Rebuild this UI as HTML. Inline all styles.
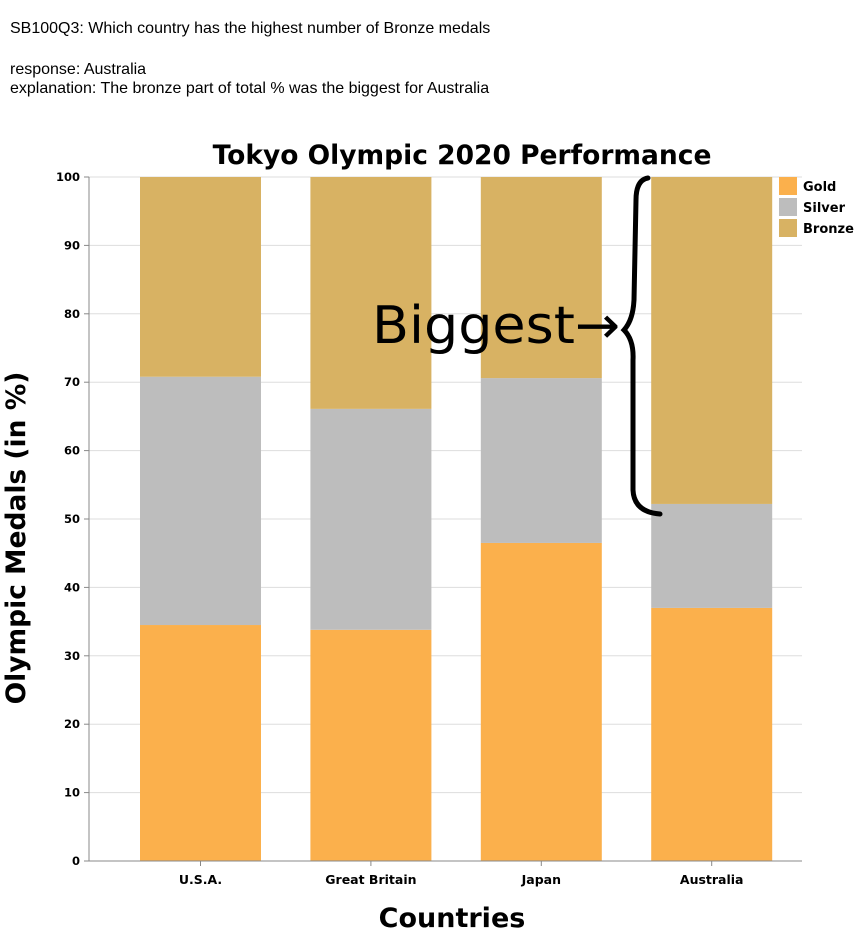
<!DOCTYPE html>
<html><head><meta charset="utf-8"><style>
body{margin:0;background:#fff;width:860px;height:935px;overflow:hidden;font-family:"Liberation Sans",sans-serif}
.hdr{position:absolute;left:10px;font-size:16px;color:#000}
</style></head><body>
<div class="hdr" style="top:20px">SB100Q3: Which country has the highest number of Bronze medals</div>
<div class="hdr" style="top:61px">response: Australia</div>
<div class="hdr" style="top:80px">explanation: The bronze part of total % was the biggest for Australia</div>
<svg id="chart" width="860" height="935" style="position:absolute;left:0;top:0" font-family="DejaVu Sans, sans-serif"></svg>
<script>
const categories=["U.S.A.","Great Britain","Japan","Australia"];
const gold=[34.5,33.8,46.5,37.0];
const silver=[36.3,32.3,24.1,15.2];
const bronze=[29.2,33.9,29.4,47.8];
const yTicks=[0,10,20,30,40,50,60,70,80,90,100];
const seriesNames=["Gold","Silver","Bronze"];
const colors=["#fbb04c","#bdbdbd","#d8b263"];
const svg=document.getElementById('chart');
const NS="http://www.w3.org/2000/svg";
const L=89,R=802,T=177,B=861;
const y=v=>B-(v/100)*(B-T);
const step=170.4, bw=121;
const xc=i=>200.5+step*i;
function mk(tag,at,txt){const e=document.createElementNS(NS,tag);for(const k in at)e.setAttribute(k,at[k]);if(txt!==undefined)e.textContent=txt;svg.appendChild(e);return e;}
yTicks.forEach(t=>{
 const g=mk('line',{x1:L,x2:R,y1:y(t),y2:y(t),stroke:'#ddd','stroke-width':1});
 
 
 const tk=mk('line',{x1:L-5,x2:L,y1:y(t),y2:y(t),stroke:'#888'});
 
 
 const lb=mk('text',{x:L-9,y:y(t)+4,'text-anchor':'end','font-size':11.5,'font-weight':'bold',fill:'#000'},t);
 
 
});
const series=[gold,silver,bronze];
categories.forEach((c,i)=>{
 let base=0;
 series.forEach((s,j)=>{
  const r=mk('rect',{x:xc(i)-bw/2,y:y(base+s[i]),width:bw,height:y(base)-y(base+s[i]),fill:colors[j]});
  
  
  base+=s[i];
 });
 const tk=mk('line',{x1:xc(i),x2:xc(i),y1:B,y2:B+5,stroke:'#888'});
 
 
 const lb=mk('text',{x:xc(i),y:B+23,'text-anchor':'middle','font-size':12.5,'font-weight':'bold'},c);
 
 
});
const ax=mk('line',{x1:L,x2:L,y1:T,y2:B,stroke:'#888'});


const axx=mk('line',{x1:L,x2:R,y1:B,y2:B,stroke:'#888'});


const ti=mk('text',{x:462,y:164,'text-anchor':'middle','font-size':26.5,'font-weight':'bold'},'Tokyo Olympic 2020 Performance');


const xt=mk('text',{x:452,y:927,'text-anchor':'middle','font-size':27,'font-weight':'bold'},'Countries');


const yt=mk('text',{x:0,y:0,'text-anchor':'middle','font-size':26.5,'font-weight':'bold',transform:'translate(25,538) rotate(-90)'},'Olympic Medals (in %)');


seriesNames.forEach((n,j)=>{
 const r=mk('rect',{x:779,y:177+j*21,width:18,height:18,fill:colors[j]});
 
 
 const t=mk('text',{x:803,y:191+j*21,'font-size':13,'font-weight':'bold'},n);
 
 
});
const an=mk('text',{x:372,y:343,'font-size':52,'font-family':'DejaVu Sans Condensed, DejaVu Sans, sans-serif',fill:'#000',textLength:248,lengthAdjust:'spacingAndGlyphs'},'Biggest→');


const br=mk('path',{d:'M648 178 Q636 180 636 200 L634 300 Q633 320 624 330 Q634 340 633 360 L633 490 Q634 512 660 514',fill:'none',stroke:'#000','stroke-width':5,'stroke-linecap':'round'});


</script>
</body></html>
